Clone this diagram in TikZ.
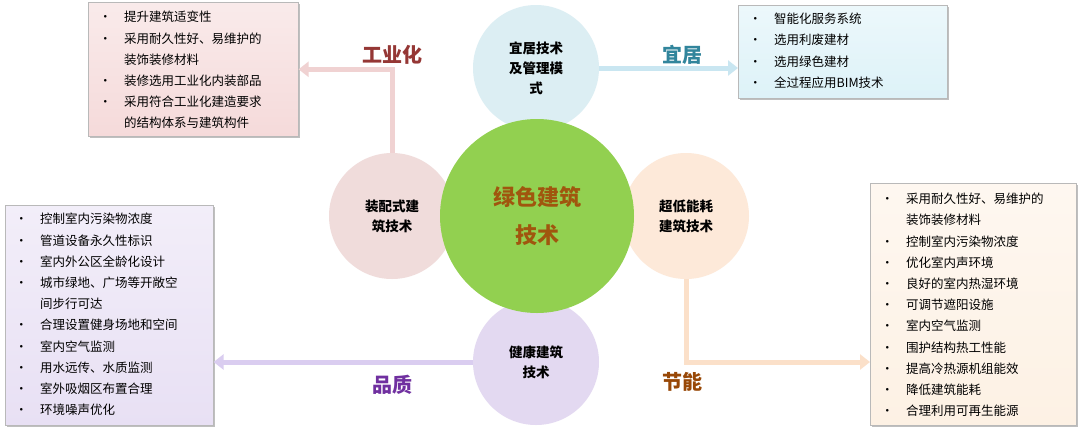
\documentclass[tikz,border=0pt]{standalone}
\usepackage{fontspec}
\setmainfont{Noto Sans CJK SC}
\usetikzlibrary{shadows,arrows.meta}
\definecolor{greenc}{HTML}{92D050}
\definecolor{greentxt}{HTML}{A0560E}
\definecolor{pinkc}{HTML}{F0DCDB}
\definecolor{bluec}{HTML}{DCEEF3}
\definecolor{peachc}{HTML}{FDE9D9}
\definecolor{lavc}{HTML}{E3D9F1}
\definecolor{pinkbox}{HTML}{F5DADA}
\definecolor{bluebox}{HTML}{DDF2F8}
\definecolor{lavbox}{HTML}{E8E0F4}
\definecolor{beigebox}{HTML}{FDF1E4}
\definecolor{pinkln}{HTML}{F0D2D2}
\definecolor{blueln}{HTML}{C9E6F1}
\definecolor{lavln}{HTML}{DACDF0}
\definecolor{peachln}{HTML}{FBE0C9}
\definecolor{lbindust}{HTML}{953735}
\definecolor{lbhome}{HTML}{31859C}
\definecolor{lbqual}{HTML}{7030A0}
\definecolor{lbenergy}{HTML}{984807}
\newcommand\bitem[1]{\makebox[25pt][l]{•}#1}
\newcommand\bcont[1]{\hspace*{25pt}#1}
\tikzset{
  circ/.style={circle,inner sep=0pt,minimum size=126pt,align=center,
    font=\fontsize{13.5pt}{20pt}\selectfont\bfseries},
  listbox/.style={rectangle,anchor=north west,draw=gray!55,line width=0.6pt,
    drop shadow={shadow xshift=1.5pt,shadow yshift=-2pt,fill=black!55,opacity=0.45}},
  listtext/.style={anchor=north west,inner sep=0pt,align=left,
    font=\fontsize{12.5pt}{21.2pt}\selectfont},
  conn/.style={line width=5pt,-{Triangle[width=15pt,length=10pt]}},
  lab/.style={font=\fontsize{20pt}{24pt}\selectfont\bfseries}
}
\begin{document}
\begin{tikzpicture}[x=1pt,y=-1pt]
\useasboundingbox[fill=white] (0,0) rectangle (1080,432);
% circles
\node[circ,fill=bluec] (tc) at (536,68) {宜居技术\\及管理模\\式};
\node[circ,fill=pinkc] (lc) at (392,216) {装配式建\\筑技术};
\node[circ,fill=peachc] (rc) at (686,216) {超低能耗\\建筑技术};
\node[circ,fill=lavc] (bc) at (536,362) {健康建筑\\技术};
\node[circle,inner sep=0pt,minimum size=194pt,fill=greenc,align=center,text=greentxt,
  font=\fontsize{22pt}{38pt}\selectfont\bfseries] (gc) at (537,216) {绿色建筑\\技术};
% boxes
\node[listbox,top color=pinkbox!55!white,bottom color=pinkbox,minimum width=210pt,minimum height=134pt] (pink) at (88,2) {};
\node[listbox,top color=bluebox!55!white,bottom color=bluebox,minimum width=209pt,minimum height=93pt] (blue) at (738,5) {};
\node[listbox,top color=lavbox!55!white,bottom color=lavbox,minimum width=208pt,minimum height=220pt] (lav) at (5,205) {};
\node[listbox,top color=beigebox!55!white,bottom color=beigebox,minimum width=206pt,minimum height=242pt] (beige) at (870,183) {};
% connectors
\draw[conn,pinkln] (lc.north) |- (pink.east);
\draw[conn,blueln] (tc.east) -- (tc.east -| blue.west);
\draw[conn,lavln] (bc.west) -- (bc.west -| lav.east);
\draw[conn,peachln] (rc.south) |- (beige.west |- bc);
% list texts
\node[listtext] (pinkt) at (99,11) {\bitem{提升建筑适变性}\\\bitem{采用耐久性好、易维护的}\\\bcont{装饰装修材料}\\\bitem{装修选用工业化内装部品}\\\bitem{采用符合工业化建造要求}\\\bcont{的结构体系与建筑构件}};
\node[listtext] (bluet) at (749,13) {\bitem{智能化服务系统}\\\bitem{选用利废建材}\\\bitem{选用绿色建材}\\\bitem{全过程应用BIM技术}};
\node[listtext] (lavt) at (15,213) {\bitem{控制室内污染物浓度}\\\bitem{管道设备永久性标识}\\\bitem{室内外公区全龄化设计}\\\bitem{城市绿地、广场等开敞空}\\\bcont{间步行可达}\\\bitem{合理设置健身场地和空间}\\\bitem{室内空气监测}\\\bitem{用水远传、水质监测}\\\bitem{室外吸烟区布置合理}\\\bitem{环境噪声优化}};
\node[listtext] (beiget) at (881,193) {\bitem{采用耐久性好、易维护的}\\\bcont{装饰装修材料}\\\bitem{控制室内污染物浓度}\\\bitem{优化室内声环境}\\\bitem{良好的室内热湿环境}\\\bitem{可调节遮阳设施}\\\bitem{室内空气监测}\\\bitem{围护结构热工性能}\\\bitem{提高冷热源机组能效}\\\bitem{降低建筑能耗}\\\bitem{合理利用可再生能源}};
% labels
\node[lab,text=lbindust] (l1) at (392,55) {工业化};
\node[lab,text=lbhome] (l2) at (682,55) {宜居};
\node[lab,text=lbqual] (l3) at (392,385) {品质};
\node[lab,text=lbenergy] (l4) at (682,382) {节能};
\end{tikzpicture}
\end{document}
